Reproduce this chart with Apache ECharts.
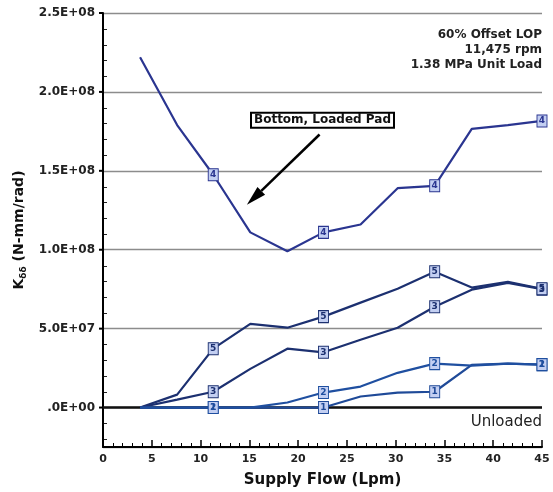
<!DOCTYPE html>
<html><head><meta charset="utf-8">
<script src="https://cdn.jsdelivr.net/npm/echarts@6/dist/echarts.min.js"></script>
<style>html,body{margin:0;padding:0;background:#fff}#c{width:553px;height:492px}</style>
</head><body><div id="c"></div>
<script>
// Supply flow (Lpm) sample points
const flow = [3.8, 7.6, 11.3, 15.1, 18.9, 22.6, 26.4, 30.2, 34.0, 37.8, 41.5, 45.0];
// K_dd (N-mm/rad) per pad
const pad4 = [2.22e8, 1.79e8, 1.475e8, 1.11e8, 0.99e8, 1.11e8, 1.16e8, 1.39e8, 1.405e8, 1.766e8, 1.79e8, 1.816e8];
const pad5 = [0, 0.82e7, 3.73e7, 5.3e7, 5.06e7, 5.76e7, 6.65e7, 7.53e7, 8.6e7, 7.6e7, 7.97e7, 7.53e7];
const pad3 = [0, 0.5e7, 1.0e7, 2.45e7, 3.73e7, 3.5e7, 4.3e7, 5.06e7, 6.39e7, 7.47e7, 7.9e7, 7.5e7];
const pad2 = [0, 0, 0, 0, 0.32e7, 0.95e7, 1.33e7, 2.2e7, 2.78e7, 2.66e7, 2.78e7, 2.72e7];
const pad1 = [0, 0, 0, 0, 0, 0, 0.7e7, 0.95e7, 1.0e7, 2.7e7, 2.78e7, 2.72e7];
const unloadedX = [0, 45];
const unloadedY = [0, 0];
const xTicks = [0, 5, 10, 15, 20, 25, 30, 35, 40, 45];
const yTickLabels = {0: '.0E+00', 50000000: '5.0E+07', 100000000: '1.0E+08', 150000000: '1.5E+08', 200000000: '2.0E+08', 250000000: '2.5E+08'};
const yMajor = [0, 5e7, 1e8, 1.5e8, 2e8, 2.5e8];
const yMinor = [-2e7, -1e7, 1e7, 2e7, 3e7, 4e7, 6e7, 7e7, 8e7, 9e7, 1.1e8, 1.2e8, 1.3e8, 1.4e8,
                1.6e8, 1.7e8, 1.8e8, 1.9e8, 2.1e8, 2.2e8, 2.3e8, 2.4e8];
const noteLines = ['60% Offset LOP', '11,475 rpm', '1.38 MPa Unit Load'];

const LINE = '#1c3070';
const FONT = 'DejaVu Sans';

function padSeries(label, values, color) {
  return {
    type: 'line',
    showAllSymbol: true,
    data: values.map((v, i) => {
      const item = { value: [flow[i], v] };
      if (i % 3 === 2) {
        item.symbol = 'rect';
        item.symbolSize = [10, 12];
        item.label = { show: true };
      } else {
        item.symbol = 'none';
      }
      return item;
    }),
    lineStyle: { color: color, width: 2.2 },
    itemStyle: { color: '#c3cff2', borderColor: color, borderWidth: 1 },
    label: { show: false, position: 'inside', formatter: label, fontSize: 9, fontWeight: 'bold', color: color, fontFamily: FONT },
    emphasis: { disabled: true },
    animation: false
  };
}

const chart = echarts.init(document.getElementById('c'));

chart.setOption({
  animation: false,
  grid: { left: 103, right: 11, top: 13, bottom: 45, containLabel: false, outerBoundsMode: 'none' },
  xAxis: {
    type: 'value', min: 0, max: 45, interval: 5,
    axisLine: { show: true, onZero: false, lineStyle: { color: '#000', width: 2 } },
    axisTick: { show: true, inside: true, length: 7, lineStyle: { color: '#000', width: 1.5 } },
    minorTick: { show: true, splitNumber: 5, length: 4, lineStyle: { color: '#000', width: 1 } },
    splitLine: { show: false },
    axisLabel: { margin: 7, fontSize: 11, fontWeight: 'bold', color: '#222', fontFamily: FONT,
      formatter: v => xTicks.indexOf(v) >= 0 ? String(v) : '' },
    name: 'Supply Flow (Lpm)', nameLocation: 'middle', nameGap: 26,
    nameTextStyle: { fontSize: 15, fontWeight: 'bold', color: '#111', fontFamily: FONT }
  },
  yAxis: {
    type: 'value', min: -2.5e7, max: 2.5e8, splitNumber: 5,
    axisLine: { show: true, onZero: false, lineStyle: { color: '#000', width: 2 } },
    axisTick: { show: false },
    splitLine: { show: true, lineStyle: { color: '#8c8c8c', width: 1.3 } },
    axisLabel: { margin: 8, fontSize: 12, fontWeight: 'bold', color: '#222', fontFamily: FONT,
      formatter: v => (yTickLabels[Math.round(v)] !== undefined ? yTickLabels[Math.round(v)] : '') },
    name: '{k|K}{s|δδ}{k| (N-mm/rad)}', nameLocation: 'middle', nameGap: 72,
    nameTextStyle: { rich: {
      k: { fontSize: 14, fontWeight: 'bold', color: '#111', fontFamily: FONT, lineHeight: 18 },
      s: { fontSize: 9, fontWeight: 'bold', color: '#111', fontFamily: FONT, lineHeight: 10, verticalAlign: 'bottom' }
    } }
  },
  series: [
    { type: 'line', data: unloadedX.map((x, i) => [x, unloadedY[i]]), symbol: 'none',
      lineStyle: { color: '#111', width: 2.5 }, emphasis: { disabled: true }, z: 1 },
    padSeries('4', pad4, '#2a3590'),
    padSeries('3', pad3, LINE),
    padSeries('5', pad5, LINE),
    padSeries('1', pad1, '#1f4a98'),
    padSeries('2', pad2, '#1f4fa0')
  ]
});

// annotations and y-axis tick marks (positions come from the chart's own scale)
const px = v => chart.convertToPixel({ gridIndex: 0 }, v);
const axisX = px([0, 0])[0];
const tickEls = [];
yMinor.forEach(v => {
  const y = Math.round(px([0, v])[1]) + 0.5;
  tickEls.push({ type: 'line', silent: true, shape: { x1: axisX, y1: y, x2: axisX + 4, y2: y }, style: { stroke: '#222', lineWidth: 1 } });
});
yMajor.forEach(v => {
  const y = px([0, v])[1];
  tickEls.push({ type: 'line', silent: true, shape: { x1: axisX - 4, y1: y, x2: axisX, y2: y }, style: { stroke: '#000', lineWidth: 2 } });
});

const tail = px([22.2, 1.73e8]);
const head = px([14.75, 1.285e8]);
const dx = head[0] - tail[0], dy = head[1] - tail[1];
const len = Math.sqrt(dx * dx + dy * dy);
const ux = dx / len, uy = dy / len;
const bx = head[0] - 20 * ux, by = head[1] - 20 * uy;
const nx = -uy, ny = ux;
const boxPos = px([22.5, 1.82e8]);
const notePos = px([45, 2.41e8]);
const unlPos = px([45, -0.95e7]);

chart.setOption({
  graphic: tickEls.concat([
    { type: 'line', shape: { x1: tail[0], y1: tail[1], x2: bx, y2: by }, style: { stroke: '#000', lineWidth: 2.5 }, silent: true },
    { type: 'polygon', shape: { points: [[head[0], head[1]], [bx + 5.5 * nx, by + 5.5 * ny], [bx - 5.5 * nx, by - 5.5 * ny]] }, style: { fill: '#000' }, silent: true },
    { type: 'text', x: boxPos[0], y: boxPos[1], silent: true,
      style: { text: 'Bottom, Loaded Pad', font: 'bold 12px "DejaVu Sans"', fill: '#111', align: 'center', verticalAlign: 'middle',
        backgroundColor: '#fff', borderColor: '#000', borderWidth: 2, padding: [1, 2, 0, 2] } },
    { type: 'text', x: notePos[0], y: notePos[1], silent: true,
      style: { text: noteLines.join('\n'), font: 'bold 12px "DejaVu Sans"', fill: '#222', align: 'right', verticalAlign: 'top', lineHeight: 15 } },
    { type: 'text', x: unlPos[0], y: unlPos[1], silent: true,
      style: { text: 'Unloaded', font: '15px "DejaVu Sans"', fill: '#222', align: 'right', verticalAlign: 'middle' } }
  ])
});
</script>
</body></html>
